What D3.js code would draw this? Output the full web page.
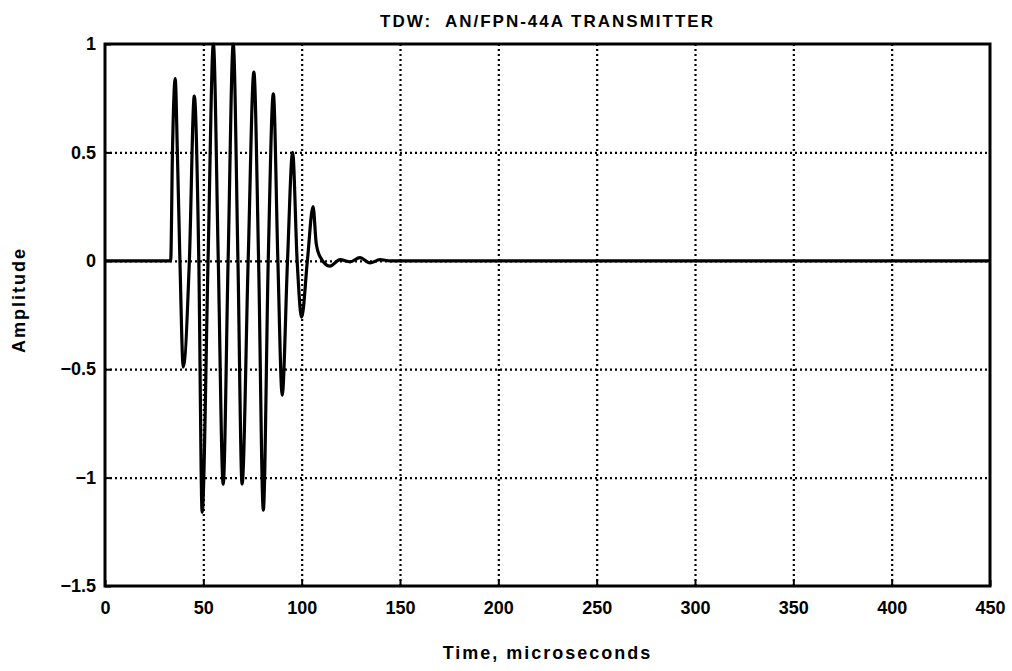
<!DOCTYPE html>
<html>
<head>
<meta charset="utf-8">
<script src="https://cdn.jsdelivr.net/npm/d3@7"></script>
<style>
  html, body { margin: 0; padding: 0; background: #fff; }
  svg { display: block; }
  text { font-family: "Liberation Sans", Arial, sans-serif; font-weight: bold; fill: #000; white-space: pre; }
</style>
</head>
<body>
<svg id="chart" width="1012" height="671"></svg>
<script>
// ---- data ----
const titleText = "TDW:  AN/FPN-44A TRANSMITTER";
const xLabel = "Time, microseconds";
const yLabel = "Amplitude";
const xTicks = [0, 50, 100, 150, 200, 250, 300, 350, 400, 450];
const yTicks = [-1.5, -1, -0.5, 0, 0.5, 1];
const timeUs = [0, 33.4, 34.3, 35.7, 36.8, 38.1, 39.8, 42.9, 45.4, 47.7, 49.4, 52.4, 55.1, 57.6, 60.1,
  62.6, 65.2, 67.6, 69.7, 72.8, 75.7, 78.1, 80.5, 83.0, 85.6, 87.9, 90.1, 92.8, 95.4, 97.7,
  100.0, 102.9, 105.8, 107.4, 109.3, 114.4, 119.5, 124.6, 129.6, 134.7, 139.8, 145, 450];
const amplitude = [0, 0, 0.5, 0.84, 0.5, 0, -0.49, 0, 0.76, 0, -1.16, 0, 1.0, 0, -1.03,
  0, 1.0, 0, -1.03, 0, 0.87, 0, -1.15, 0, 0.77, 0, -0.62, 0, 0.50, 0,
  -0.26, 0, 0.25, 0.08, 0.02, -0.025, 0.005, -0.005, 0.015, -0.01, 0.005, 0, 0];

// ---- layout ----
const svg = d3.select("#chart");
const m = { left: 105, right: 22, top: 44, bottom: 85 };
const W = 1012, H = 671;
const iw = W - m.left - m.right, ih = H - m.top - m.bottom;

const x = d3.scaleLinear().domain([0, 450]).range([m.left, m.left + iw]);
const y = d3.scaleLinear().domain([-1.5, 1]).range([m.top + ih, m.top]);

// grid (dotted)
const gx = svg.append("g").attr("transform", `translate(0,${m.top + ih})`)
  .call(d3.axisBottom(x).tickValues(xTicks.slice(1, -1)).tickSize(-ih).tickFormat(""));
const gy = svg.append("g").attr("transform", `translate(${m.left},0)`)
  .call(d3.axisLeft(y).tickValues(yTicks.slice(1, -1)).tickSize(-iw).tickFormat(""));
[gx, gy].forEach(g => {
  g.select(".domain").remove();
  g.selectAll("line").attr("stroke", "#000").attr("stroke-width", 2.2).attr("stroke-dasharray", "2,3");
});

// data line
const line = d3.line().x((d, i) => x(timeUs[i])).y(d => y(d)).curve(d3.curveMonotoneX);
svg.append("path").datum(amplitude)
  .attr("d", line).attr("fill", "none").attr("stroke", "#000")
  .attr("stroke-width", 3.2).attr("stroke-linejoin", "round");

// axes with inward ticks
const fmt = d3.format("~g");
const ax = svg.append("g").attr("transform", `translate(0,${m.top + ih})`)
  .call(d3.axisBottom(x).tickValues(xTicks).tickSizeInner(-6).tickSizeOuter(0).tickPadding(12).tickFormat(fmt));
const ay = svg.append("g").attr("transform", `translate(${m.left},0)`)
  .call(d3.axisLeft(y).tickValues(yTicks).tickSizeInner(-6).tickSizeOuter(0).tickPadding(9).tickFormat(fmt));
[ax, ay].forEach(g => {
  g.select(".domain").remove();
  g.selectAll("line").attr("stroke", "#000").attr("stroke-width", 2);
  g.selectAll("text").attr("font-size", 18).attr("font-family", "'Liberation Sans', Arial, sans-serif")
    .attr("font-weight", "bold").attr("fill", "#000");
});
ax.selectAll("text").attr("dy", "0.9em");

// frame
svg.append("rect").attr("x", m.left).attr("y", m.top).attr("width", iw).attr("height", ih)
  .attr("fill", "none").attr("stroke", "#000").attr("stroke-width", 3);

// texts
svg.append("text").attr("x", m.left + iw / 2).attr("y", 27).attr("text-anchor", "middle")
  .attr("font-size", 17).attr("letter-spacing", 2).text(titleText);
svg.append("text").attr("x", m.left + iw / 2).attr("y", 659).attr("text-anchor", "middle")
  .attr("font-size", 18).attr("letter-spacing", 2).text(xLabel);
svg.append("text").attr("transform", `translate(25,300) rotate(-90)`).attr("text-anchor", "middle")
  .attr("font-size", 18).attr("letter-spacing", 2).text(yLabel);
</script>
</body>
</html>
